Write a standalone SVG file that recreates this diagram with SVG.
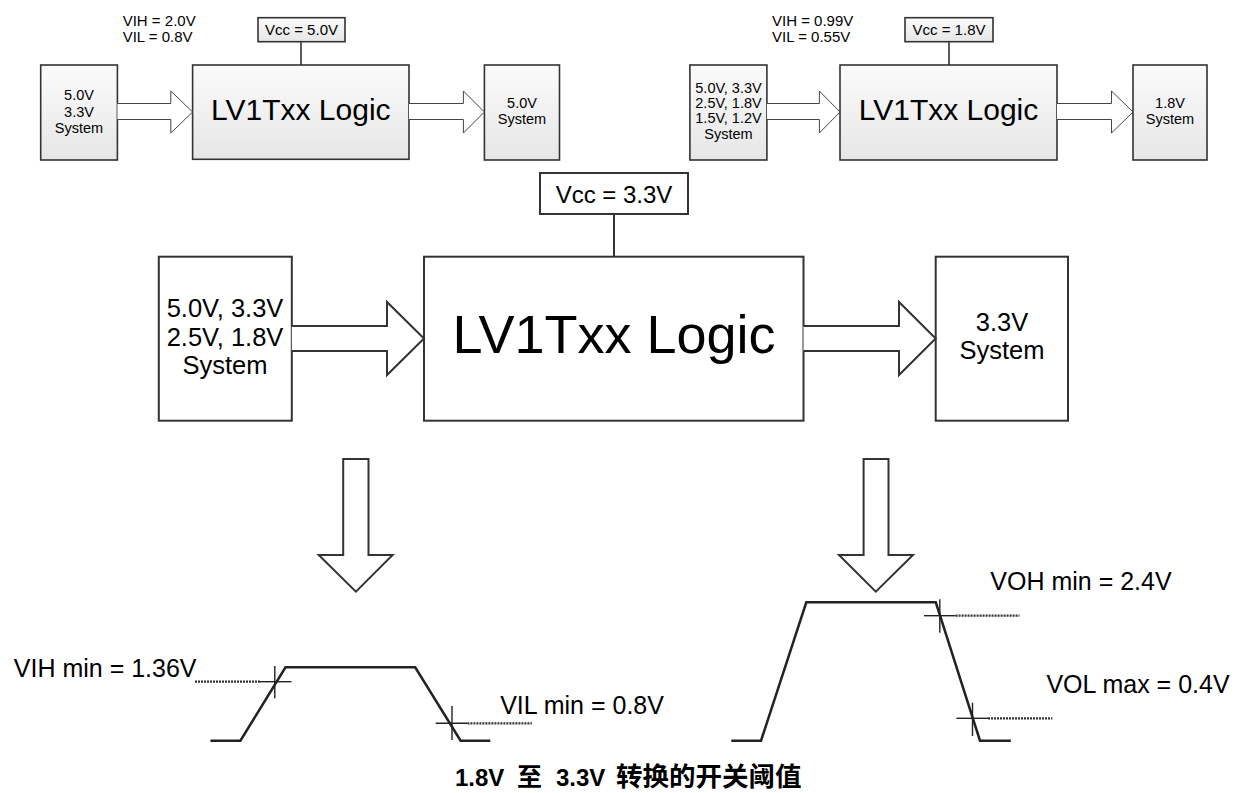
<svg xmlns="http://www.w3.org/2000/svg" width="1239" height="793" viewBox="0 0 1239 793">
<defs>
<linearGradient id="g" x1="0" y1="0" x2="0" y2="1">
<stop offset="0" stop-color="#fbfbfb"/>
<stop offset="1" stop-color="#e6e6e6"/>
</linearGradient>
</defs>
<style>
text{font-family:"Liberation Sans",Arial,sans-serif;fill:#000}
.sb{fill:url(#g);stroke:#333;stroke-width:1.6}
.mb{fill:#fff;stroke:#333;stroke-width:2}
.sa{fill:#fff;stroke:#444;stroke-width:1}
.ma{fill:#fff;stroke:#333;stroke-width:2}
.ln{stroke:#333;fill:none}
.s15{font-size:15px}
.s145{font-size:14.5px}
.c{text-anchor:middle}
.wave{fill:none;stroke:#222;stroke-width:2.5;stroke-linejoin:miter}
.cross{stroke:#222;stroke-width:1.4}
.dot{stroke:#333;stroke-width:2.2;stroke-dasharray:2 1}
.lbl{font-size:25px}
</style>

<g id="top-left-vih">
<text class="s15" x="122.7" y="25.7">VIH = 2.0V</text>
<text class="s15" x="122.7" y="41.7">VIL = 0.8V</text>
</g>
<g id="top-left-vcc">
<rect class="sb" x="258" y="17.7" width="87" height="24"/>
<text class="s15 c" x="301.5" y="35">Vcc = 5.0V</text>
</g>
<g id="top-left-src">
<rect class="sb" x="40.7" y="65" width="76.7" height="95"/>
<text class="s145 c" x="79" y="100">5.0V</text>
<text class="s145 c" x="79" y="116.5">3.3V</text>
<text class="s145 c" x="79" y="132.5">System</text>
</g>
<g id="top-left-logic">
<rect class="sb" x="192.6" y="65" width="216.4" height="94.3"/>
<text class="c" x="300.8" y="120" font-size="30">LV1Txx Logic</text>
</g>
<g id="top-left-dst">
<rect class="sb" x="484.4" y="65" width="75.1" height="95"/>
<text class="s145 c" x="522" y="108">5.0V</text>
<text class="s145 c" x="522" y="124">System</text>
</g>

<g id="top-right-vih">
<text class="s15" x="772" y="25.7">VIH = 0.99V</text>
<text class="s15" x="772" y="41.7">VIL = 0.55V</text>
</g>
<g id="top-right-vcc">
<rect class="sb" x="905" y="17.7" width="88" height="24"/>
<text class="s15 c" x="949" y="35">Vcc = 1.8V</text>
</g>
<g id="top-right-src">
<rect class="sb" x="689.9" y="65" width="77" height="95"/>
<text class="s145 c" x="728.5" y="93.3">5.0V, 3.3V</text>
<text class="s145 c" x="728.5" y="108.3">2.5V, 1.8V</text>
<text class="s145 c" x="728.5" y="123.3">1.5V, 1.2V</text>
<text class="s145 c" x="728.5" y="139">System</text>
</g>
<g id="top-right-logic">
<rect class="sb" x="840" y="65" width="217" height="95"/>
<text class="c" x="948.5" y="120" font-size="30">LV1Txx Logic</text>
</g>
<g id="top-right-dst">
<rect class="sb" x="1133" y="65" width="74" height="95"/>
<text class="s145 c" x="1170" y="108">1.8V</text>
<text class="s145 c" x="1170" y="124">System</text>
</g>

<g id="main-vcc">
<rect class="mb" x="540" y="173" width="148" height="41"/>
<text class="c" x="614" y="203" font-size="24">Vcc = 3.3V</text>
</g>
<g id="main-src">
<rect class="mb" x="158.8" y="256.7" width="133" height="164"/>
<text class="c" x="225" y="316.7" font-size="25.5">5.0V, 3.3V</text>
<text class="c" x="225" y="346" font-size="25.5">2.5V, 1.8V</text>
<text class="c" x="225" y="374" font-size="25.5">System</text>
</g>
<g id="main-logic">
<rect class="mb" x="424" y="256.7" width="379.5" height="164"/>
<text class="c" x="614" y="353.3" font-size="54">LV1Txx Logic</text>
</g>
<g id="main-dst">
<rect class="mb" x="935.7" y="256.7" width="132.3" height="164"/>
<text class="c" x="1002" y="331" font-size="25.5">3.3V</text>
<text class="c" x="1002" y="359" font-size="25.5">System</text>
</g>

<g id="connectors">
<line class="ln" x1="301" y1="41.7" x2="301" y2="65" stroke-width="1.6"/>
<line class="ln" x1="949" y1="41.7" x2="949" y2="65" stroke-width="1.6"/>
<line class="ln" x1="614" y1="214" x2="614" y2="256.7" stroke-width="2"/>
<path class="sa" d="M117.4,103.5 H170.8 V91 L192.6,112 L170.8,133 V119.5 H117.4"/>
<path class="sa" d="M409,103.5 H463.4 V91 L484.4,112 L463.4,133 V119.5 H409"/>
<path class="sa" d="M766.9,103.5 H819.4 V91 L840,112 L819.4,133 V119.5 H766.9"/>
<path class="sa" d="M1057,103.5 H1111.5 V91 L1133,112 L1111.5,133 V119.5 H1057"/>
<path class="ma" d="M291.8,326 H387 V302 L424,338.5 L387,375 V351 H291.8"/>
<path class="ma" d="M803.5,326 H899 V302 L935.7,338.5 L899,375 V351 H803.5"/>
<path class="ma" d="M343.2,459 H368.5 V555 H392.6 L355.9,591.7 L318.7,555 H343.2 Z"/>
<path class="ma" d="M863.6,459 H888.5 V555 H913 L875.8,591.7 L839,555 H863.6 Z"/>
</g>

<g id="input-waveform">
<polyline class="wave" points="210.4,740.7 240.4,740.7 285.5,667.3 415.2,667.3 460.6,740.7 490.3,740.7"/>
<line class="dot" x1="195" y1="681.7" x2="260" y2="681.7"/>
<line class="cross" x1="260" y1="681.7" x2="291.4" y2="681.7"/>
<line class="cross" x1="274.8" y1="666" x2="274.8" y2="698.3"/>
<line class="cross" x1="435.7" y1="723.3" x2="467.4" y2="723.3"/>
<line class="cross" x1="452" y1="706" x2="452" y2="740"/>
<line class="dot" x1="467.4" y1="723.3" x2="531.8" y2="723.3"/>
<text class="lbl" x="13.8" y="677.3">VIH min = 1.36V</text>
<text class="lbl" x="500.2" y="714">VIL min = 0.8V</text>
</g>

<g id="output-waveform">
<polyline class="wave" points="731.3,740.7 761,740.7 806.3,602.3 935.8,602.3 980,740.7 1010.8,740.7"/>
<line class="cross" x1="924" y1="615.7" x2="955.6" y2="615.7"/>
<line class="cross" x1="939.8" y1="599.3" x2="939.8" y2="632.7"/>
<line class="dot" x1="955.6" y1="615.7" x2="1019.5" y2="615.7"/>
<line class="cross" x1="956.4" y1="718.3" x2="988" y2="718.3"/>
<line class="cross" x1="972.5" y1="702.7" x2="972.5" y2="736"/>
<line class="dot" x1="988" y1="718.3" x2="1052.3" y2="718.3"/>
<text class="lbl" x="990.3" y="590">VOH min = 2.4V</text>
<text class="lbl" x="1046.4" y="693.3">VOL max = 0.4V</text>
</g>

<g id="caption">
<text y="786" font-weight="bold" style="font-family:'Liberation Sans','Noto Sans CJK SC',sans-serif"><tspan x="455" font-size="24">1.8V</tspan><tspan x="517" font-size="25">至</tspan><tspan x="556" font-size="24">3.3V</tspan><tspan x="616" font-size="26.5">转换的开关阈值</tspan></text>
</g>
</svg>
